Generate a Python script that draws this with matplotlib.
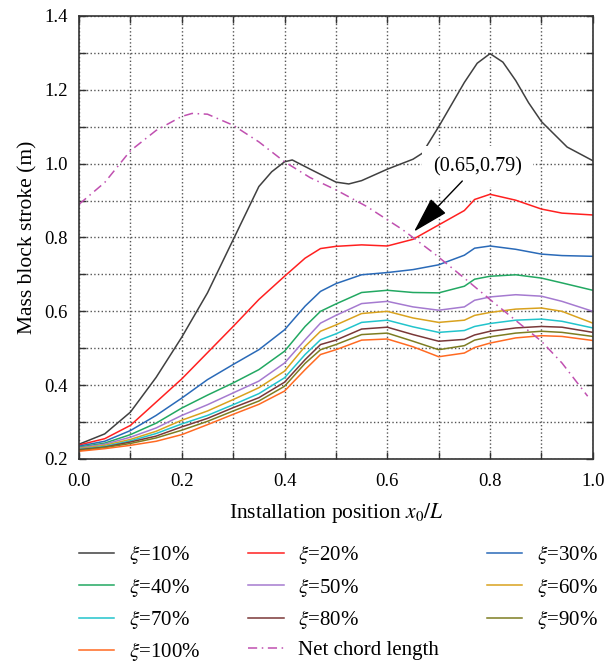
import numpy as np
import matplotlib
matplotlib.use("Agg")
import matplotlib.pyplot as plt
from matplotlib.ticker import FormatStrFormatter

plt.rcParams['font.family'] = ['Liberation Serif', 'DejaVu Serif']
plt.rcParams['mathtext.fontset'] = 'stix'

# sampled positions x0/L
x = [0.0, 0.05, 0.1, 0.15, 0.2, 0.25, 0.3, 0.35, 0.4, 0.44, 0.47, 0.5,
     0.55, 0.6, 0.65, 0.7, 0.75, 0.77, 0.8, 0.85, 0.9, 0.94, 1.0]

x10 = [0.0, 0.05, 0.1, 0.15, 0.2, 0.25, 0.3, 0.35, 0.375, 0.4, 0.415, 0.45, 0.5,
       0.525, 0.55, 0.6, 0.65, 0.668, 0.7, 0.725, 0.75, 0.775, 0.8, 0.825, 0.85,
       0.875, 0.9, 0.95, 1.0]
xi10 = [0.240, 0.268, 0.327, 0.421, 0.530, 0.650, 0.794, 0.938, 0.978, 1.005, 1.010,
        0.985, 0.950, 0.945, 0.954, 0.985, 1.012, 1.028, 1.100, 1.160, 1.220, 1.272,
        1.298, 1.275, 1.225, 1.165, 1.114, 1.045, 1.008]

xi20 = [0.238, 0.255, 0.291, 0.354, 0.417, 0.488, 0.559, 0.632, 0.695, 0.744, 0.770, 0.776,
        0.780, 0.777, 0.795, 0.834, 0.873, 0.903, 0.917, 0.901, 0.877, 0.866, 0.861]
xi30 = [0.235, 0.248, 0.277, 0.318, 0.365, 0.415, 0.456, 0.496, 0.550, 0.614, 0.654, 0.675,
        0.699, 0.705, 0.713, 0.726, 0.752, 0.771, 0.777, 0.768, 0.755, 0.751, 0.749]
xi40 = [0.232, 0.243, 0.266, 0.297, 0.338, 0.373, 0.406, 0.442, 0.492, 0.559, 0.600, 0.620,
        0.651, 0.657, 0.651, 0.650, 0.668, 0.687, 0.695, 0.699, 0.690, 0.677, 0.657]
xi50 = [0.230, 0.240, 0.259, 0.284, 0.318, 0.347, 0.379, 0.411, 0.460, 0.523, 0.568, 0.589,
        0.621, 0.627, 0.612, 0.603, 0.612, 0.630, 0.639, 0.645, 0.641, 0.627, 0.600]
xi60 = [0.228, 0.237, 0.253, 0.275, 0.305, 0.330, 0.361, 0.393, 0.438, 0.505, 0.546, 0.563,
        0.594, 0.600, 0.582, 0.570, 0.576, 0.589, 0.597, 0.606, 0.609, 0.600, 0.568]
xi70 = [0.226, 0.234, 0.249, 0.269, 0.295, 0.318, 0.347, 0.377, 0.420, 0.483, 0.523, 0.539,
        0.570, 0.576, 0.558, 0.543, 0.548, 0.559, 0.567, 0.576, 0.579, 0.573, 0.555]
xi80 = [0.225, 0.232, 0.246, 0.262, 0.287, 0.310, 0.339, 0.366, 0.408, 0.469, 0.510, 0.522,
        0.552, 0.557, 0.537, 0.519, 0.524, 0.536, 0.546, 0.555, 0.559, 0.557, 0.543]
xi90 = [0.223, 0.231, 0.242, 0.257, 0.278, 0.302, 0.330, 0.357, 0.397, 0.459, 0.496, 0.510,
        0.537, 0.541, 0.519, 0.496, 0.507, 0.522, 0.531, 0.541, 0.546, 0.543, 0.532]
xi100 = [0.221, 0.228, 0.237, 0.248, 0.266, 0.293, 0.321, 0.348, 0.384, 0.442, 0.483, 0.496,
         0.522, 0.525, 0.504, 0.477, 0.487, 0.502, 0.514, 0.528, 0.534, 0.532, 0.521]

chord_x = [0.0, 0.05, 0.1, 0.15, 0.2, 0.22, 0.25, 0.3, 0.35, 0.4, 0.45, 0.5, 0.56, 0.63,
           0.69, 0.75, 0.8, 0.86, 0.9, 0.94, 0.99]
chord = [0.890, 0.949, 1.035, 1.090, 1.128, 1.136, 1.134, 1.104, 1.059, 1.005, 0.962, 0.929,
         0.884, 0.821, 0.758, 0.690, 0.632, 0.564, 0.519, 0.460, 0.370]

series = [xi20, xi30, xi40, xi50, xi60, xi70, xi80, xi90, xi100]
labels = [r'$\xi$=%d%%' % p for p in range(10, 101, 10)]
colors = ['#404040', '#ff2020', '#2a6ab8', '#22a862', '#a57ad0', '#d9a21e',
          '#22c4cc', '#7a3838', '#7d7d22', '#ff6a22']

fig = plt.figure(figsize=(6.08, 6.63), dpi=100)
ax = fig.add_axes([0.130, 0.3077, 0.845, 0.6682])

handles = []
h, = ax.plot(x10, xi10, color=colors[0], lw=1.1, label=labels[0],
             solid_joinstyle='round')
handles.append(h)
for y, lab, c in zip(series, labels[1:], colors[1:]):
    h, = ax.plot(x, y, color=c, lw=1.1, label=lab, solid_joinstyle='round')
    handles.append(h)
hc, = ax.plot(chord_x, chord, color='#c050b0', lw=1.1, ls=(0, (6, 3, 1, 3)),
              label='Net chord length')
handles.append(hc)

ax.set_xlim(0, 1.0)
ax.set_ylim(0.2, 1.4)
ax.set_xticks(np.arange(0, 1.01, 0.2))
ax.set_xticks(np.arange(0.1, 1.0, 0.2), minor=True)
ax.set_yticks(np.arange(0.2, 1.41, 0.2))
ax.set_yticks(np.arange(0.3, 1.4, 0.2), minor=True)
ax.xaxis.set_major_formatter(FormatStrFormatter('%.1f'))
ax.yaxis.set_major_formatter(FormatStrFormatter('%.1f'))
ax.tick_params(which='both', direction='in', top=True, right=True, length=5,
               width=1, color='#333333', labelsize=13.5)
ax.tick_params(axis='x', pad=10)
ax.tick_params(axis='y', pad=8)
ax.grid(which='both', ls=':', color='#555555', lw=1)
for s in ax.spines.values():
    s.set_color('#333333')
    s.set_linewidth(1.2)

ax.set_xlabel(r'Installation position $x_0/L$', fontsize=15.5, labelpad=8)
ax.set_ylabel('Mass block stroke (m)', fontsize=15.5, labelpad=5)

ax.text(0.775, 0.992, '(0.65,0.79)', fontsize=14.5, ha='center', va='center',
        zorder=5, bbox=dict(fc='white', ec='none', pad=8))
ax.annotate('', xy=(0.652, 0.816), xytext=(0.746, 0.953),
            arrowprops=dict(arrowstyle='-|>,head_length=1.15,head_width=0.33',
                            mutation_scale=20, color='black', lw=1,
                            shrinkA=0, shrinkB=0), zorder=6)

order = [0, 3, 6, 9, 1, 4, 7, 10, 2, 5, 8]
ax.legend([handles[i] for i in order], [handles[i].get_label() for i in order],
          ncol=3, loc='upper left', bbox_to_anchor=(0.0, -0.19), frameon=False,
          borderaxespad=0, borderpad=0, handlelength=1.7, handletextpad=0.7,
          columnspacing=2.3, labelspacing=0.45, fontsize=15)

fig.savefig('out.png', dpi=100)
